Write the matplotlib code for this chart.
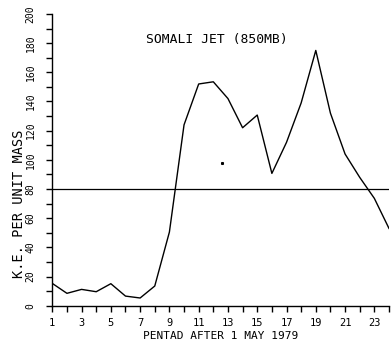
import matplotlib
matplotlib.use("Agg")
import matplotlib.pyplot as plt

pentads = list(range(1, 25))
ke = [15.3, 8.5, 11.2, 9.6, 15.1, 6.6, 5.3, 13.5, 50.5, 124, 152, 153.5, 142, 122,
      130.7, 90.7, 112, 139, 175, 132, 104, 88, 73.6, 53]
stray_x = [12.57]
stray_y = [97.6]
ref_level = 80
xtick_labels = [str(i) for i in range(1, 24, 2)]
ytick_values = list(range(0, 201, 20))

font = "DejaVu Sans Mono"
fig = plt.figure(figsize=(3.92, 3.49), dpi=100)
ax = fig.add_axes([0.1334, 0.124, 0.8589, 0.836])

ax.plot(pentads, ke, color="black", lw=1.0)
ax.plot(stray_x, stray_y, "s", color="black", ms=1.2)
ax.axhline(ref_level, color="black", lw=0.9)

ax.set_xlim(1, 24)
ax.set_ylim(0, 200)
for s in ["top", "right"]:
    ax.spines[s].set_visible(False)
for s in ["left", "bottom"]:
    ax.spines[s].set_linewidth(1.0)

ax.set_xticks(pentads)
ax.set_xticklabels([str(p) if p % 2 == 1 else "" for p in pentads],
                   fontsize=7.5, family=font)
ax.set_yticks(list(range(0, 201, 10)))
ax.set_yticklabels([str(v) if v % 20 == 0 else "" for v in range(0, 201, 10)],
                   fontsize=7, family=font, rotation=90, va="center")
ax.tick_params(axis="x", direction="out", length=4, width=1, pad=5)
ax.tick_params(axis="y", direction="out", length=4, width=1, pad=8)

ax.set_xlabel("PENTAD AFTER 1 MAY 1979", fontsize=8, family=font, labelpad=2)
ax.set_ylabel("K.E. PER UNIT MASS", fontsize=9.8, family=font)
ax.yaxis.set_label_coords(-0.078, 0.349)
ax.text(0.49, 0.911, "SOMALI JET (850MB)", transform=ax.transAxes,
        ha="center", va="center", fontsize=9.4, family=font)

fig.savefig("out.png", dpi=100)
